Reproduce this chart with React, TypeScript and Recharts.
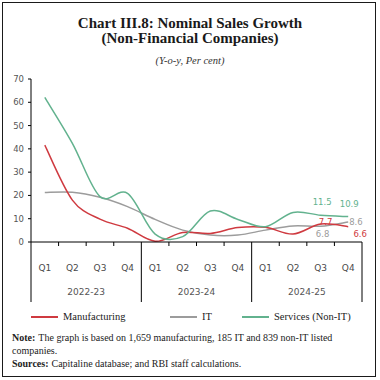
import * as React from "react";
import { LineChart, Line, XAxis, YAxis, LabelList } from "recharts";

// quarters and fiscal years
const quarters = ["Q1", "Q2", "Q3", "Q4", "Q1", "Q2", "Q3", "Q4", "Q1", "Q2", "Q3", "Q4"];
const years = ["2022-23", "2023-24", "2024-25"];

// y-o-y growth, per cent
const manufacturing = [41.6, 18.0, 9.8, 5.9, 0.3, 4.1, 3.7, 6.2, 6.3, 3.4, 7.7, 6.6];
const it = [21.3, 21.4, 19.2, 15.2, 9.7, 5.1, 3.0, 3.0, 5.1, 6.9, 6.8, 8.6];
const services = [62.1, 42.4, 19.5, 20.9, 3.4, 2.3, 13.3, 9.7, 6.6, 12.7, 11.5, 10.9];

const yTicks = [0, 10, 20, 30, 40, 50, 60, 70];

const data = quarters.map((q, i) => ({
  q,
  year: years[Math.floor(i / 4)],
  manufacturing: manufacturing[i],
  it: it[i],
  services: services[i],
}));

const RED = "#cf3a40";
const GREY = "#9c9c9c";
const GREEN = "#62b28e";

// chart geometry
const W = 380;
const TOP = 79;
const AXIS_Y = 242;
const LEFT = 31;
const RIGHT = 362;
const BAND = (RIGHT - LEFT) / quarters.length;

// Excel-like smooth line (Catmull-Rom through the points)
function smooth(context: any) {
  let pts: number[][] = [];
  return {
    areaStart() {},
    areaEnd() {},
    lineStart() {
      pts = [];
    },
    point(x: number, y: number) {
      pts.push([+x, +y]);
    },
    lineEnd() {
      if (!pts.length) return;
      context.moveTo(pts[0][0], pts[0][1]);
      for (let i = 0; i < pts.length - 1; i++) {
        const p0 = pts[i - 1] || pts[i];
        const p1 = pts[i];
        const p2 = pts[i + 1];
        const p3 = pts[i + 2] || p2;
        context.bezierCurveTo(
          p1[0] + (p2[0] - p0[0]) / 6,
          p1[1] + (p2[1] - p0[1]) / 6,
          p2[0] - (p3[0] - p1[0]) / 6,
          p2[1] - (p3[1] - p1[1]) / 6,
          p2[0],
          p2[1]
        );
      }
    },
  };
}

const tickFont = { fontFamily: "DejaVu Sans", fontSize: 9, fill: "#4a4a4a" };

function QuarterTick(props: any) {
  const { x, payload } = props;
  const i = payload.index;
  return (
    <g>
      <text x={x} y={AXIS_Y + 29} textAnchor="middle" {...tickFont}>
        {payload.value}
      </text>
      {i % 4 !== 3 && (
        <line x1={x + BAND / 2} x2={x + BAND / 2} y1={AXIS_Y} y2={AXIS_Y + 4} stroke="#000" />
      )}
      {i % 4 === 0 && (
        <line x1={x - BAND / 2} x2={x - BAND / 2} y1={AXIS_Y} y2={AXIS_Y + 60} stroke="#000" />
      )}
      {i === quarters.length - 1 && (
        <line x1={x + BAND / 2} x2={x + BAND / 2} y1={AXIS_Y} y2={AXIS_Y + 60} stroke="#000" />
      )}
      {i % 4 === 1 && (
        <text x={x + BAND / 2} y={AXIS_Y + 53} textAnchor="middle" {...tickFont} fill="#555">
          {years[Math.floor(i / 4)]}
        </text>
      )}
    </g>
  );
}

// label placement for the last two points of each line
function endLabel(color: string, offs: Record<number, [number, number, string]>) {
  return (props: any) => {
    const { x, y, value, index } = props;
    const o = offs[index];
    if (!o) return null;
    return (
      <text
        x={x + o[0]}
        y={y + o[1]}
        textAnchor={o[2] as any}
        fontFamily="DejaVu Sans"
        fontSize={8.5}
        fill={color}
      >
        {value}
      </text>
    );
  };
}

function LegendItem({ color, label, left }: { color: string; label: string; left: number }) {
  return (
    <div style={{ position: "absolute", left, top: 311, display: "flex", alignItems: "center" }}>
      <div style={{ width: 27, height: 2, background: color, marginRight: 5 }} />
      <span style={{ fontFamily: "Liberation Serif", fontSize: 10.5, color: "#222" }}>{label}</span>
    </div>
  );
}

export default function App() {
  return (
    <div
      style={{
        position: "fixed",
        left: 0,
        top: 0,
        width: W,
        height: 380,
        background: "#fff",
        overflow: "hidden",
      }}
    >
      <div
        style={{
          position: "absolute",
          left: 2,
          top: 2,
          width: 372,
          height: 373,
          border: "1.5px solid #1a1a1a",
        }}
      />
      <div
        style={{
          position: "absolute",
          top: 16,
          width: W,
          textAlign: "center",
          fontFamily: "Liberation Serif",
          fontWeight: 700,
          fontSize: 15,
          lineHeight: "15px",
          color: "#1a1a1a",
        }}
      >
        <div>Chart III.8: Nominal Sales Growth</div>
        <div>(Non-Financial Companies)</div>
      </div>
      <div
        style={{
          position: "absolute",
          top: 55,
          width: W,
          textAlign: "center",
          fontFamily: "Liberation Serif",
          fontStyle: "italic",
          fontSize: 10.5,
          color: "#333",
        }}
      >
        (Y-o-y, Per cent)
      </div>

      <div style={{ position: "absolute", left: 0, top: 0 }}>
        <LineChart
          width={W}
          height={AXIS_Y + 62}
          data={data}
          margin={{ top: TOP, right: W - RIGHT, bottom: 0, left: 0 }}
        >
          <XAxis
            dataKey="q"
            interval={0}
            tickLine={false}
            axisLine={{ stroke: "#000" }}
            height={62}
            padding={{ left: BAND / 2, right: BAND / 2 }}
            tick={<QuarterTick />}
          />
          <YAxis
            width={LEFT}
            domain={[0, 70]}
            ticks={yTicks}
            interval={0}
            tickSize={3}
            tickMargin={4}
            axisLine={{ stroke: "#000" }}
            tickLine={{ stroke: "#000" }}
            tick={{ fontFamily: "DejaVu Sans", fontSize: 8.5, fill: "#555" }}
          />
          <Line
            dataKey="it"
            type={smooth as any}
            stroke={GREY}
            strokeWidth={1.5}
            dot={false}
            isAnimationActive={false}
          >
            <LabelList
              dataKey="it"
              content={endLabel(GREY, { 10: [2, 11, "middle"], 11: [1, 3, "start"] })}
            />
          </Line>
          <Line
            dataKey="manufacturing"
            type={smooth as any}
            stroke={RED}
            strokeWidth={1.5}
            dot={false}
            isAnimationActive={false}
          >
            <LabelList
              dataKey="manufacturing"
              content={endLabel(RED, { 10: [5, 1, "middle"], 11: [12, 10.5, "middle"] })}
            />
          </Line>
          <Line
            dataKey="services"
            type={smooth as any}
            stroke={GREEN}
            strokeWidth={1.5}
            dot={false}
            isAnimationActive={false}
          >
            <LabelList
              dataKey="services"
              content={endLabel(GREEN, { 10: [1.5, -10.5, "middle"], 11: [1, -9.5, "middle"] })}
            />
          </Line>
        </LineChart>
      </div>

      <LegendItem color={RED} label="Manufacturing" left={31} />
      <LegendItem color={GREY} label="IT" left={170} />
      <LegendItem color={GREEN} label="Services (Non-IT)" left={242} />

      <div
        style={{
          position: "absolute",
          left: 12,
          top: 331,
          width: 360,
          fontFamily: "Liberation Serif",
          fontSize: 10,
          lineHeight: "13px",
          color: "#222",
          whiteSpace: "nowrap",
        }}
      >
        <div>
          <b style={{ marginRight: 3 }}>Note:</b>
          <span>The graph is based on 1,659 manufacturing, 185 IT and 839 non-IT listed</span>
        </div>
        <div>companies.</div>
        <div>
          <b style={{ marginRight: 3 }}>Sources:</b>
          <span>Capitaline database; and RBI staff calculations.</span>
        </div>
      </div>
    </div>
  );
}
